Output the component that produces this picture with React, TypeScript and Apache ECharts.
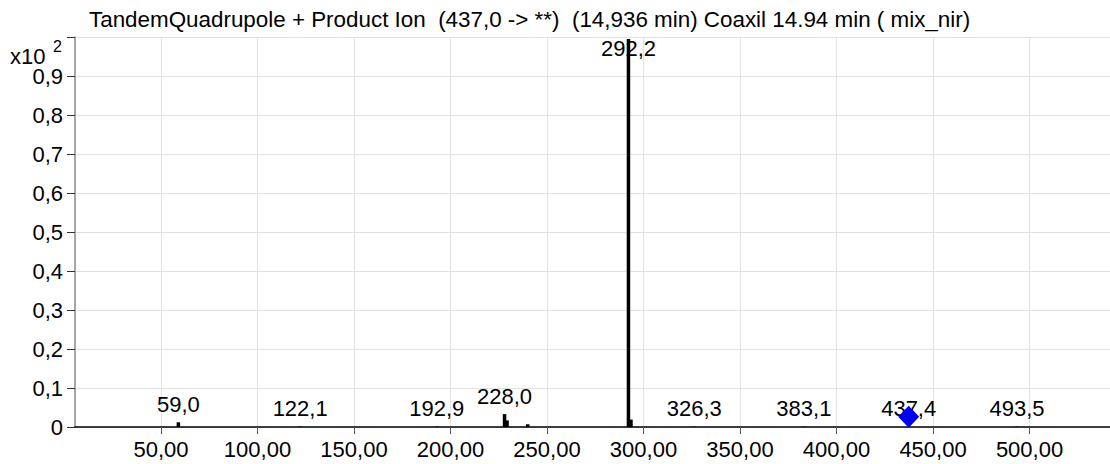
import React, { useEffect, useRef } from "react";
import * as echarts from "echarts";

// Product ion spectrum: m/z values and relative intensities (x10^2 counts)
const peakMz = [59.0, 122.1, 192.9, 228.0, 229.3, 240.0, 292.2, 293.5, 326.3, 383.1, 437.4, 493.5];
const peakIntensity = [0.012, 0.001, 0.001, 0.033, 0.017, 0.007, 0.995, 0.019, 0.001, 0.001, 0.001, 0.001];

// Annotated peaks (m/z labels)
const labelMz = [59.0, 122.1, 192.9, 228.0, 292.2, 326.3, 383.1, 437.4, 493.5];
const labelIntensity = [0.012, 0.001, 0.001, 0.033, 0.995, 0.001, 0.001, 0.001, 0.001];

// Precursor ion marker
const precursorMz = [437.4];
const precursorIntensity = [0.026];

const xTicks = [50, 100, 150, 200, 250, 300, 350, 400, 450, 500];

const titleText =
  "TandemQuadrupole + Product Ion  (437,0 -> **)  (14,936 min) Coaxil 14.94 min ( mix_nir)";

const FONT = "'Liberation Sans', Arial, sans-serif";
const FS = 22;

export default function App() {
  const ref = useRef<HTMLDivElement>(null);

  useEffect(() => {
    if (!ref.current) return;
    const chart = echarts.init(ref.current, null, { renderer: "svg" });

    const comma = (v: number, d: number) => v.toFixed(d).replace(".", ",");

    chart.setOption({
      animation: false,
      backgroundColor: "#ffffff",
      textStyle: { fontFamily: FONT },
      title: {
        text: titleText,
        left: 84,
        top: 3,
        textStyle: { fontFamily: FONT, fontSize: 22.4, fontWeight: "normal", color: "#000" },
      },
      grid: { left: 75, right: 0, top: 37, bottom: 37, containLabel: false },
      xAxis: {
        type: "value",
        min: 5.44,
        max: 541.7,
        axisLine: { show: true, lineStyle: { color: "#000", width: 1.5 } },
        axisTick: { show: true, length: 7, customValues: xTicks, lineStyle: { color: "#555" } },
        axisLabel: {
          customValues: xTicks,
          margin: 11,
          fontSize: FS,
          fontFamily: FONT,
          color: "#000",
          formatter: (v: number) => comma(v, 2),
        },
        splitLine: { show: true, lineStyle: { color: "#e2e2e2", width: 1 } },
      },
      yAxis: {
        type: "value",
        min: 0,
        max: 1,
        interval: 0.1,
        axisLine: { show: true, lineStyle: { color: "#888", width: 1.5 } },
        axisTick: { show: true, length: 8, lineStyle: { color: "#333" } },
        axisLabel: {
          margin: 12,
          fontSize: FS,
          lineHeight: 16,
          fontFamily: FONT,
          color: "#000",
          formatter: (v: number) => (v === 0 ? "0" : v >= 0.999 ? "" : comma(v, 1)),
        },
        splitLine: { show: true, lineStyle: { color: "#e2e2e2", width: 1 } },
      },
      graphic: [
        {
          type: "text",
          left: 10,
          top: 45,
          style: { text: "x10", fontSize: FS, lineHeight: 17, fontFamily: FONT, fill: "#000" },
        },
        {
          type: "text",
          left: 53,
          top: 38,
          style: { text: "2", fontSize: 16, lineHeight: 14, fontFamily: FONT, fill: "#000" },
        },
      ],
      series: [
        {
          type: "custom",
          data: peakMz.map((m, i) => [m, peakIntensity[i]]),
          encode: { x: 0, y: 1 },
          renderItem: (_params: any, api: any) => {
            const x = api.value(0);
            const y = api.value(1);
            const top = api.coord([x, y]);
            const base = api.coord([x, 0]);
            const w = 3.5;
            return {
              type: "rect",
              shape: { x: top[0] - w / 2, y: top[1], width: w, height: base[1] - top[1] },
              style: { fill: "#000" },
            };
          },
          z: 2,
        },
        {
          type: "scatter",
          symbolSize: 0,
          itemStyle: { color: "transparent", opacity: 1 },
          data: labelMz.map((m, i) => {
            const item: any = { value: [m, labelIntensity[i]] };
            if (labelIntensity[i] > 0.5) {
              item.label = { position: "bottom", distance: -1 };
            }
            return item;
          }),
          label: {
            show: true,
            position: "top",
            distance: 7,
            fontSize: FS,
            fontFamily: FONT,
            color: "#000",
            opacity: 1,
            formatter: (p: any) => comma(p.value[0], 1),
          },
          z: 3,
        },
        {
          type: "scatter",
          symbol: "diamond",
          symbolSize: [21, 22],
          itemStyle: { color: "#0000f0", opacity: 1 },
          data: precursorMz.map((m, i) => [m, precursorIntensity[i]]),
          z: 4,
        },
      ],
    });

    return () => chart.dispose();
  }, []);

  return (
    <div
      ref={ref}
      style={{ position: "fixed", left: 0, top: 0, width: 1110, height: 464 }}
    />
  );
}
